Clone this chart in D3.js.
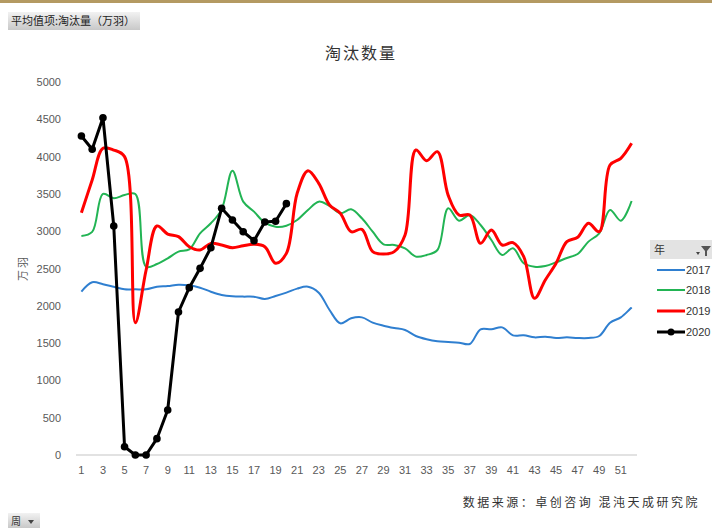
<!DOCTYPE html>
<html>
<head>
<meta charset="utf-8">
<script src="https://cdn.jsdelivr.net/npm/d3@7"></script>
<style>
  body { margin: 0; background: #fff; }
  svg { display: block; font-family: "Liberation Sans", Arial, sans-serif; }
</style>
</head>
<body>
<div id="main"></div>
<script>
// weeks 1..52
var weeks = d3.range(1, 53);
var years = ["2017", "2018", "2019", "2020"];
var colors = ["#2f7fd0", "#22b454", "#ff0000", "#000000"];
var yTicks = [0, 500, 1000, 1500, 2000, 2500, 3000, 3500, 4000, 4500, 5000];

var v2017 = [2190, 2315, 2290, 2256, 2221, 2221, 2221, 2256, 2265, 2283, 2274, 2243, 2189, 2145, 2127, 2123,
  2122, 2091, 2131, 2176, 2230, 2256, 2176, 1944, 1765, 1832, 1845, 1774, 1733, 1702, 1676, 1595, 1551, 1524,
  1515, 1506, 1488, 1685, 1685, 1711, 1604, 1604, 1577, 1586, 1568, 1577, 1568, 1568, 1595, 1774, 1845, 1979];
var v2018 = [2935, 2990, 3499, 3441, 3485, 3499, 2524, 2560, 2637, 2726, 2757, 2972, 3106, 3293, 3811, 3396,
  3262, 3114, 3060, 3074, 3150, 3284, 3396, 3338, 3240, 3293, 3173, 2993, 2824, 2815, 2771, 2659, 2681, 2748,
  3307, 3141, 3217, 3083, 2882, 2681, 2771, 2570, 2524, 2533, 2583, 2641, 2694, 2860, 2972, 3284, 3141, 3405];
var v2019 = [3248, 3686, 4111, 4088, 4000, 1774, 2480, 3070, 2962, 2927, 2792, 2748, 2837, 2815, 2779, 2806,
  2824, 2792, 2570, 2703, 3508, 3811, 3642, 3351, 3240, 2993, 3025, 2726, 2694, 2726, 2949, 4088, 3945, 4066,
  3480, 3217, 3217, 2837, 3016, 2815, 2846, 2659, 2100, 2346, 2570, 2860, 2918, 3106, 2993, 3887, 3977, 4178];
var v2020 = [4276, 4098, 4521, 3070, 111, 0, 0, 219, 603, 1917, 2243, 2502, 2779, 3307, 3150, 2993, 2873,
  3123, 3133, 3369];

var series = [v2017, v2018, v2019, v2020];

var width = 712, height = 528;
var svg = d3.select("#main").append("svg")
  .attr("width", width)
  .attr("height", height);

// top gold rule
svg.append("rect").attr("x", 0).attr("y", 0).attr("width", width).attr("height", 3).attr("fill", "#b49a62");

// field button
var grad = svg.append("defs").append("linearGradient").attr("id", "btn").attr("x1", 0).attr("y1", 0).attr("x2", 0).attr("y2", 1);
grad.append("stop").attr("offset", "0%").attr("stop-color", "#f2f2f2");
grad.append("stop").attr("offset", "100%").attr("stop-color", "#c8c8c8");

svg.append("rect").attr("x", 8).attr("y", 12).attr("width", 132).attr("height", 18).attr("fill", "url(#btn)");
svg.append("text").attr("x", 11).attr("y", 25).attr("font-size", 11).attr("fill", "#222")
  .attr("font-family", "Noto Sans CJK SC").text("平均值项:淘汰量（万羽）");

// title
svg.append("text").attr("x", 361).attr("y", 59).attr("text-anchor", "middle")
  .attr("font-size", 16).attr("fill", "#333").attr("font-family", "Noto Sans CJK SC")
  .style("letter-spacing", "2px").text("淘汰数量");

var x = d3.scaleBand().domain(weeks).range([76, 637]);
var y = d3.scaleLinear().domain([0, 5000]).range([455, 82]);
var cx = function(w) { return x(w) + x.bandwidth() / 2; };

// x axis
svg.append("line").attr("x1", 76).attr("x2", 637).attr("y1", 455).attr("y2", 455)
  .attr("stroke", "#d9d9d9").attr("stroke-width", 1.5);
svg.append("g").selectAll("text")
  .data(weeks.filter(function(w) { return w % 2 == 1; }))
  .enter().append("text")
    .attr("x", function(d) { return cx(d); })
    .attr("y", 474)
    .attr("text-anchor", "middle")
    .attr("font-size", 11)
    .attr("fill", "#595959")
    .text(function(d) { return d; });

// y tick labels
svg.append("g").selectAll("text")
  .data(yTicks)
  .enter().append("text")
    .attr("x", 61)
    .attr("y", function(d) { return y(d) + 4; })
    .attr("text-anchor", "end")
    .attr("font-size", 11)
    .attr("fill", "#595959")
    .text(function(d) { return d; });

svg.append("text")
  .attr("transform", "translate(27,268) rotate(-90)")
  .attr("text-anchor", "middle").attr("font-size", 11).attr("fill", "#595959")
  .attr("font-family", "Noto Sans CJK SC").style("letter-spacing", "2px").text("万羽");

// lines
var smooth = d3.line()
  .x(function(d, i) { return cx(weeks[i]); })
  .y(function(d) { return y(d); })
  .curve(d3.curveCatmullRom.alpha(0.5));
var straight = d3.line()
  .x(function(d, i) { return cx(weeks[i]); })
  .y(function(d) { return y(d); });

series.forEach(function(s, k) {
  svg.append("path")
    .attr("d", k == 3 ? straight(s) : smooth(s))
    .attr("fill", "none")
    .attr("stroke", colors[k])
    .attr("stroke-width", k == 1 || k == 0 ? 2 : 3)
    .attr("stroke-linejoin", "round");
});

svg.append("g").selectAll("circle")
  .data(v2020)
  .enter().append("circle")
    .attr("cx", function(d, i) { return cx(weeks[i]); })
    .attr("cy", function(d) { return y(d); })
    .attr("r", 3.8)
    .attr("fill", "#000");

// legend
svg.append("rect").attr("x", 650).attr("y", 240).attr("width", 62).attr("height", 19).attr("fill", "#e3e3e3");
svg.append("text").attr("x", 654).attr("y", 254).attr("font-size", 11).attr("fill", "#333")
  .attr("font-family", "Noto Sans CJK SC").text("年");
svg.append("path").attr("d", "M701,246 L711,246 L707,251 L707,256 L705,256 L705,251 Z").attr("fill", "#555");
svg.append("path").attr("d", "M696,252 L700,252 L698,255 Z").attr("fill", "#444");

var leg = svg.append("g").selectAll("g")
  .data(years)
  .enter().append("g")
    .attr("transform", function(d, i) { return "translate(0," + [270, 290, 311, 332][i] + ")"; });
leg.append("line")
  .attr("x1", 657).attr("x2", 685).attr("y1", 0).attr("y2", 0)
  .attr("stroke", function(d, i) { return colors[i]; })
  .attr("stroke-width", function(d, i) { return i < 2 ? 2 : 3; });
leg.filter(function(d, i) { return i == 3; }).append("circle")
  .attr("cx", 671).attr("cy", 0).attr("r", 3.5).attr("fill", "#000");
leg.append("text")
  .attr("x", 686).attr("y", 4)
  .attr("font-size", 11).attr("fill", "#333")
  .text(function(d) { return d; });

// source
svg.append("text").attr("x", 700).attr("y", 507).attr("text-anchor", "end")
  .attr("font-size", 12).attr("fill", "#333").attr("font-family", "Noto Sans CJK SC")
  .style("letter-spacing", "2.5px").text("数据来源：卓创咨询 混沌天成研究院");

// week button
svg.append("rect").attr("x", 8).attr("y", 513).attr("width", 32).attr("height", 15).attr("fill", "url(#btn)");
svg.append("text").attr("x", 11).attr("y", 525).attr("font-size", 10).attr("fill", "#333")
  .attr("font-family", "Noto Sans CJK SC").text("周");
svg.append("path").attr("d", "M28,520 L34,520 L31,524 Z").attr("fill", "#444");
</script>
</body>
</html>
